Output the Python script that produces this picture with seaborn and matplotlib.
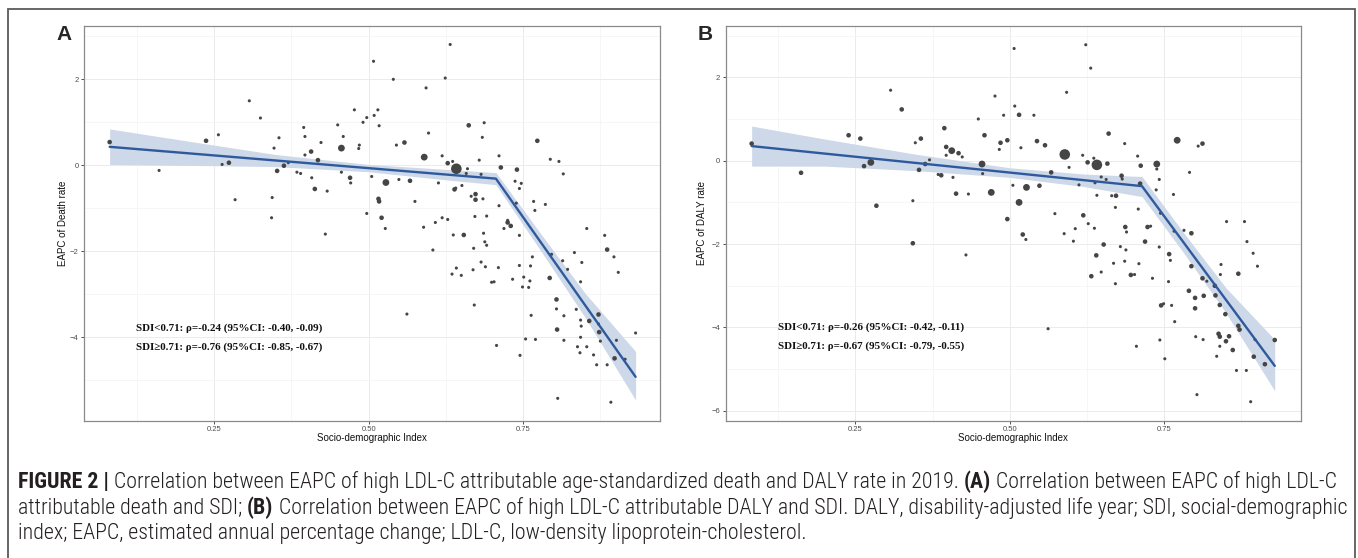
import matplotlib
matplotlib.use('Agg')
import matplotlib.pyplot as plt
import seaborn as sns
import pandas as pd
from matplotlib.patches import Rectangle
from matplotlib.ticker import MultipleLocator
from matplotlib import font_manager
from matplotlib.font_manager import FontProperties

# panel A: EAPC of death rate vs SDI (size code ~ population)
sdi_a = [0.081, 0.161, 0.237, 0.257, 0.263, 0.274, 0.284, 0.307, 0.325, 0.344,
         0.343, 0.347, 0.355, 0.352, 0.363, 0.370, 0.384, 0.390, 0.395, 0.397,
         0.407, 0.397, 0.408, 0.413, 0.418, 0.423, 0.433, 0.430, 0.450, 0.456,
         0.459, 0.456, 0.470, 0.471, 0.477, 0.485, 0.484, 0.491, 0.497, 0.497,
         0.505, 0.508, 0.509, 0.515, 0.517, 0.516, 0.517, 0.521, 0.527, 0.528,
         0.540, 0.545, 0.549, 0.558, 0.567, 0.562, 0.575, 0.590, 0.589, 0.593,
         0.597, 0.604, 0.608, 0.613, 0.619, 0.619, 0.624, 0.628, 0.628, 0.632,
         0.636, 0.637, 0.635, 0.639, 0.641, 0.642, 0.642, 0.650, 0.651, 0.654,
         0.658, 0.660, 0.662, 0.666, 0.669, 0.670, 0.671, 0.672, 0.673, 0.673,
         0.679, 0.682, 0.682, 0.684, 0.685, 0.687, 0.688, 0.689, 0.691, 0.691,
         0.686, 0.699, 0.703, 0.707, 0.710, 0.711, 0.711, 0.714, 0.719, 0.725,
         0.725, 0.730, 0.733, 0.737, 0.739, 0.740, 0.744, 0.744, 0.744, 0.745,
         0.747, 0.749, 0.751, 0.754, 0.759, 0.761, 0.762, 0.763, 0.765, 0.767,
         0.769, 0.770, 0.773, 0.786, 0.793, 0.794, 0.796, 0.804, 0.804, 0.805,
         0.806, 0.808, 0.814, 0.815, 0.816, 0.816, 0.822, 0.833, 0.836, 0.838,
         0.842, 0.843, 0.843, 0.844, 0.845, 0.843, 0.853, 0.853, 0.857, 0.864,
         0.869, 0.872, 0.872, 0.873, 0.875, 0.882, 0.886, 0.886, 0.892, 0.897,
         0.898, 0.901, 0.904, 0.915, 0.932]
eapc_a = [0.54, -0.12, 0.57, 0.71, 0.02, 0.06, -0.80, 1.50, 1.10, -0.75,
          -1.22, 0.40, 0.64, -0.13, -0.01, 0.06, -0.16, -0.19, 0.88, 0.67,
          0.32, 0.24, -0.29, -0.55, 0.12, 0.53, -0.60, -1.60, 0.94, 0.40,
          0.67, -0.16, -0.29, -0.41, 1.29, 0.47, 0.39, 1.00, 1.11, -1.12,
          -0.26, 2.42, 1.16, 1.29, 0.92, -0.78, -0.84, -1.22, -1.47, -0.40,
          2.00, 0.47, -0.33, 0.53, -0.36, -3.46, -0.84, 0.19, -1.44, 1.80,
          0.75, -1.97, -1.33, -0.41, 0.22, -1.22, 2.03, 0.05, -1.26, 2.81,
          0.09, -1.62, -2.53, -0.56, -0.53, -2.39, -0.08, -2.56, -0.47, -1.62,
          -0.19, -0.08, 0.93, -0.72, -2.43, -1.93, -3.25, -1.19, -0.80, -0.67,
          0.12, -2.25, -0.21, 0.65, -0.78, 0.99, -1.78, -2.36, -1.86, -1.18,
          -1.58, -2.72, -2.71, -4.19, -2.38, -0.94, 0.22, -0.05, -1.47, -1.33,
          -1.28, -1.41, -2.65, -0.37, -0.88, -0.10, -2.33, -0.54, -1.63, -4.42,
          -0.42, -2.83, -2.60, -4.04, -2.84, -2.69, -2.34, -3.49, -2.13, -0.84,
          -1.05, -4.05, 0.57, -0.91, -2.62, 0.14, -2.07, -3.12, -3.34, -3.82,
          -5.42, 0.09, -2.22, -0.20, -3.50, -4.07, -2.42, -2.03, -3.35, -4.22,
          -4.36, -2.71, -3.60, -3.74, -2.26, -4.00, -1.47, -4.22, -3.62, -4.41,
          -4.64, -3.47, -3.69, -3.88, -4.09, -1.63, -4.64, -1.96, -5.51, -2.13,
          -4.49, -4.07, -2.49, -4.51, -3.90]
size_a = [2, 1, 2, 1, 1, 2, 1, 1, 1, 1,
          1, 1, 1, 2, 2, 1, 1, 1, 1, 1,
          2, 1, 1, 2, 2, 1, 1, 1, 1, 3,
          1, 1, 2, 1, 1, 1, 1, 1, 1, 1,
          1, 1, 1, 1, 1, 2, 2, 2, 1, 3,
          1, 1, 1, 2, 2, 1, 1, 3, 1, 1,
          1, 1, 1, 1, 1, 1, 1, 2, 1, 1,
          1, 1, 1, 2, 1, 1, 4, 1, 1, 2,
          1, 1, 2, 1, 1, 1, 1, 1, 2, 2,
          1, 1, 1, 1, 1, 1, 1, 1, 1, 1,
          1, 1, 1, 1, 1, 1, 1, 2, 1, 2,
          1, 2, 1, 1, 1, 2, 1, 1, 1, 1,
          1, 1, 1, 1, 1, 1, 1, 1, 1, 1,
          1, 1, 2, 1, 2, 1, 1, 2, 1, 2,
          1, 1, 1, 1, 1, 1, 1, 1, 1, 1,
          1, 1, 1, 1, 1, 1, 1, 1, 2, 1,
          1, 2, 1, 2, 1, 1, 1, 2, 1, 1,
          2, 1, 1, 1, 1]

# panel B: EAPC of DALY rate vs SDI
sdi_b = [0.082, 0.162, 0.239, 0.258, 0.264, 0.275, 0.284, 0.307, 0.325, 0.343,
         0.343, 0.347, 0.356, 0.353, 0.363, 0.370, 0.384, 0.389, 0.394, 0.397,
         0.397, 0.406, 0.408, 0.413, 0.417, 0.423, 0.429, 0.433, 0.449, 0.455,
         0.456, 0.459, 0.470, 0.476, 0.483, 0.485, 0.490, 0.496, 0.496, 0.505,
         0.507, 0.508, 0.515, 0.515, 0.518, 0.521, 0.526, 0.527, 0.539, 0.544,
         0.548, 0.557, 0.562, 0.567, 0.573, 0.588, 0.589, 0.592, 0.596, 0.603,
         0.606, 0.612, 0.619, 0.618, 0.623, 0.626, 0.627, 0.631, 0.632, 0.636,
         0.637, 0.638, 0.640, 0.641, 0.641, 0.648, 0.648, 0.652, 0.656, 0.658,
         0.660, 0.665, 0.668, 0.671, 0.671, 0.672, 0.679, 0.681, 0.682, 0.686,
         0.686, 0.687, 0.688, 0.689, 0.696, 0.702, 0.705, 0.707, 0.708, 0.709,
         0.712, 0.711, 0.719, 0.723, 0.728, 0.731, 0.737, 0.738, 0.738, 0.742,
         0.742, 0.743, 0.744, 0.745, 0.749, 0.751, 0.757, 0.758, 0.760, 0.762,
         0.765, 0.766, 0.767, 0.771, 0.782, 0.791, 0.790, 0.794, 0.794, 0.800,
         0.800, 0.801, 0.803, 0.805, 0.812, 0.812, 0.813, 0.814, 0.819, 0.832,
         0.833, 0.835, 0.838, 0.840, 0.840, 0.841, 0.842, 0.840, 0.849, 0.850,
         0.851, 0.855, 0.861, 0.867, 0.870, 0.870, 0.872, 0.880, 0.883, 0.884,
         0.890, 0.894, 0.895, 0.897, 0.901, 0.913, 0.929]
eapc_b = [0.41, -0.29, 0.61, 0.53, -0.13, -0.04, -1.08, 1.69, 1.23, -0.96,
          -1.98, 0.43, 0.53, -0.22, -0.08, 0.02, -0.33, -0.35, 0.78, 0.33,
          0.13, 0.24, -0.40, -0.79, 0.18, 0.09, -2.26, -0.80, 1.00, -0.08,
          -0.31, 0.61, -0.76, 1.55, 0.27, 0.43, 1.09, 0.49, -1.40, -0.59,
          2.69, 1.31, 1.10, -1.00, 0.31, -1.77, -1.89, -0.64, 1.09, 0.47,
          -0.60, 0.37, -4.03, -0.28, -1.27, -1.75, 0.15, 1.64, -0.16, -1.93,
          -1.63, -0.58, -1.31, 0.13, 2.78, -0.04, -1.51, 2.22, -2.77, 0.06,
          -1.62, -0.53, -2.27, -0.10, -0.83, -2.67, -0.39, -2.01, -0.45, -0.07,
          0.65, -0.84, -2.46, -2.95, -1.12, -0.84, -2.06, -0.36, -0.44, -2.41,
          0.41, -1.59, -2.14, -1.71, -2.74, -2.73, -4.45, 0.11, -1.16, -2.47,
          -0.12, -0.55, -1.94, -1.59, -1.57, -2.82, -0.70, -0.08, -0.20, -0.45,
          -2.07, -4.30, -1.26, -3.47, -3.43, -4.75, -2.90, -2.24, -2.39, -3.47,
          -0.81, -1.69, -3.86, 0.49, -1.67, -0.28, -3.12, -1.74, -2.53, -3.29,
          -3.54, -4.22, -5.61, 0.35, -2.82, 0.41, -4.29, -3.24, -2.89, -3.00,
          -3.23, -4.69, -4.15, -4.22, -3.46, -2.73, -2.49, -4.45, -3.68, -4.33,
          -1.46, -4.21, -4.54, -5.03, -2.71, -3.96, -4.05, -1.46, -5.03, -1.94,
          -5.78, -2.22, -4.70, -4.29, -2.53, -4.88, -4.30]
size_b = [2, 2, 2, 2, 2, 3, 2, 1, 2, 1,
          2, 1, 2, 2, 2, 1, 1, 2, 2, 2,
          1, 3, 1, 2, 2, 1, 1, 1, 1, 3,
          1, 2, 3, 1, 1, 2, 1, 2, 2, 1,
          1, 1, 2, 3, 1, 2, 1, 3, 1, 2,
          2, 2, 1, 2, 1, 1, 4, 1, 1, 1,
          1, 1, 2, 1, 1, 2, 1, 1, 2, 1,
          1, 1, 2, 4, 1, 1, 1, 2, 1, 2,
          2, 1, 1, 1, 1, 2, 1, 2, 1, 1,
          1, 2, 1, 1, 2, 1, 1, 1, 1, 1,
          2, 2, 2, 2, 1, 1, 1, 3, 1, 1,
          1, 1, 1, 2, 1, 1, 1, 2, 1, 1,
          1, 1, 1, 3, 1, 1, 2, 2, 2, 2,
          2, 1, 1, 1, 2, 2, 1, 2, 1, 2,
          2, 1, 2, 2, 2, 1, 1, 1, 2, 2,
          1, 2, 2, 1, 2, 2, 2, 1, 1, 1,
          1, 1, 2, 1, 1, 2, 2]

# segmented fits (breakpoint at SDI 0.71) and their 95% bands
fit_x_a = [0.081, 0.706, 0.932]
fit_y_a = [0.43, -0.31, -4.92]
band_x_a = [0.081, 0.20, 0.35, 0.50, 0.62, 0.706, 0.78, 0.85, 0.932]
band_hi_a = [0.845, 0.58, 0.25, 0.02, -0.09, -0.17, -1.62, -2.97, -4.33]
band_lo_a = [0.02, 0.00, -0.03, -0.15, -0.33, -0.45, -2.02, -3.53, -5.46]

fit_x_b = [0.082, 0.714, 0.929]
fit_y_b = [0.35, -0.61, -4.92]
band_x_b = [0.082, 0.20, 0.35, 0.50, 0.62, 0.714, 0.78, 0.85, 0.929]
band_hi_b = [0.83, 0.52, 0.15, -0.17, -0.32, -0.38, -1.70, -3.05, -4.29]
band_lo_b = [-0.13, -0.13, -0.24, -0.40, -0.62, -0.86, -2.18, -3.65, -5.52]

notes_a = ['SDI<0.71: ρ=-0.24 (95%CI: -0.40, -0.09)',
           'SDI≥0.71: ρ=-0.76 (95%CI: -0.85, -0.67)']
notes_b = ['SDI<0.71: ρ=-0.26 (95%CI: -0.42, -0.11)',
           'SDI≥0.71: ρ=-0.67 (95%CI: -0.79, -0.55)']

sns.set_theme(style='whitegrid')
plt.rcParams['font.family'] = ['Liberation Sans', 'DejaVu Sans']


def pick_caption_fonts():
    # look for a narrow/condensed sans for the journal caption
    flist = font_manager.fontManager.ttflist
    prefs = ['Liberation Sans Narrow', 'Arial Narrow', 'Roboto Condensed',
             'Open Sans Condensed', 'DejaVu Sans', 'Noto Sans']
    for name in prefs:
        cands = [f for f in flist if f.name == name and f.style == 'normal'
                 and (name not in ('DejaVu Sans', 'Noto Sans')
                      or 'ondensed' in str(f.stretch) or 'Condensed' in f.fname)]
        reg = sorted([f for f in cands if f.weight in (300, 400, 'light', 'normal', 'regular')],
                     key=lambda f: 0 if f.weight in (300, 'light') else 1)
        bold = [f for f in cands if f.weight in (700, 'bold')]
        if reg and bold:
            return FontProperties(fname=reg[0].fname), FontProperties(fname=bold[0].fname)
    return (FontProperties(family='Liberation Sans'),
            FontProperties(family='Liberation Sans', weight='bold'))


cap_reg, cap_bold = pick_caption_fonts()

W, H = 1358, 558
fig = plt.figure(figsize=(W / 100, H / 100), dpi=100)
fig.patch.set_facecolor('white')

size_map = {1: 5, 2: 11, 3: 24, 4: 58}


def panel(rect, sdi, eapc, size, fx, fy, bx, bhi, blo, ylim, ylabel, notes, note_y):
    ax = fig.add_axes(rect)
    ax.set_facecolor('white')
    df = pd.DataFrame({'sdi': sdi, 'eapc': eapc, 'pop': size})
    ax.fill_between(bx, blo, bhi, color='#cdd8e8', lw=0, zorder=2)
    sns.scatterplot(data=df, x='sdi', y='eapc', size='pop', sizes=size_map,
                    color='#454545', linewidth=0, legend=False, ax=ax, zorder=3)
    sns.lineplot(x=fx, y=fy, color='#2e5a9d', lw=1.7, ax=ax, zorder=4)
    ax.set_xlim(0.04, 0.9715)
    ax.set_ylim(*ylim)
    ax.set_xticks([0.25, 0.50, 0.75])
    ax.set_xticklabels(['0.25', '0.50', '0.75'])
    ax.yaxis.set_major_locator(MultipleLocator(2))
    ax.xaxis.set_minor_locator(MultipleLocator(0.125))
    ax.yaxis.set_minor_locator(MultipleLocator(1))
    ax.grid(which='major', color='#ebebeb', lw=0.7)
    ax.grid(which='minor', color='#f3f3f3', lw=0.5)
    ax.tick_params(which='major', length=2.5, width=0.6, color='#333333',
                   labelsize=5.5, labelcolor='#4d4d4d', pad=1.5,
                   bottom=True, left=True)
    ax.tick_params(which='minor', length=0)
    for s in ax.spines.values():
        s.set_color('#8a8a8a')
        s.set_linewidth(0.9)
    ax.set_xlabel('Socio-demographic Index', fontsize=7, color='#111111')
    ax.set_ylabel(ylabel, fontsize=7, color='#111111')
    ax.xaxis.set_label_coords(0.5, -0.044)
    ax.xaxis.label.set_va('center')
    ax.yaxis.label.set_va('center')
    for txt, yy in zip(notes, note_y):
        ax.text(0.124, yy, txt, family=['Liberation Serif', 'DejaVu Serif'],
                fontweight='bold', fontsize=7.9, color='#111111',
                ha='left', va='center', zorder=5)
    return ax


ax_a = panel([84.3 / W, 1 - 420.7 / H, 575.7 / W, 394.7 / H],
             sdi_a, eapc_a, size_a, fit_x_a, fit_y_a,
             band_x_a, band_hi_a, band_lo_a, (-5.94, 3.24),
             'EAPC of Death rate', notes_a, [-3.78, -4.22])
ax_a.yaxis.set_label_coords(-0.0375, 0.5)

ax_b = panel([725.7 / W, 1 - 420.7 / H, 575.3 / W, 394.7 / H],
             sdi_b, eapc_b, size_b, fit_x_b, fit_y_b,
             band_x_b, band_hi_b, band_lo_b, (-6.235, 3.23),
             'EAPC of DALY rate', notes_b, [-3.99, -4.45])
ax_b.yaxis.set_label_coords(-0.0417, 0.5)

fig.text(64 / W, 1 - 35 / H, 'A', fontsize=15, fontweight='bold',
         ha='center', va='center')
fig.text(705 / W, 1 - 35 / H, 'B', fontsize=15, fontweight='bold',
         ha='center', va='center')

# outer frame (open at the bottom edge)
fig.add_artist(Rectangle((8 / W, -0.1), (1355 - 8) / W, 1 - 9 / H + 0.1,
                         transform=fig.transFigure, fill=False,
                         ec='#5a5a5a', lw=1.3))

# caption with bold pieces
cap_lines = [
    [('FIGURE 2 |', True),
     (' Correlation between EAPC of high LDL-C attributable age-standardized death and DALY rate in 2019. ', False),
     ('(A)', True),
     (' Correlation between EAPC of high LDL-C', False)],
    [('attributable death and SDI; ', False),
     ('(B)', True),
     (' Correlation between EAPC of high LDL-C attributable DALY and SDI. DALY, disability-adjusted life year; SDI, social-demographic', False)],
    [('index; EAPC, estimated annual percentage change; LDL-C, low-density lipoprotein-cholesterol.', False)],
]
cap_y = [482, 508, 534]
renderer = fig.canvas.get_renderer()


def draw_line(parts, yy, size):
    x = 18
    arts = []
    for txt, bold in parts:
        fp = (cap_bold if bold else cap_reg).copy()
        fp.set_size(size)
        t = fig.text(x / W, 1 - yy / H, txt, fontproperties=fp,
                     color='#231f20', ha='left', va='center')
        arts.append(t)
        x = t.get_window_extent(renderer=renderer).x1
    return arts, x


# scale the caption so its first line spans the same width as in the journal layout
probe, x_end = draw_line(cap_lines[0], cap_y[0], 12)
for t in probe:
    t.remove()
cap_size = 12 * (1338 - 18) / (x_end - 18)
for parts, yy in zip(cap_lines, cap_y):
    draw_line(parts, yy, cap_size)

fig.savefig('out.png', dpi=100)
